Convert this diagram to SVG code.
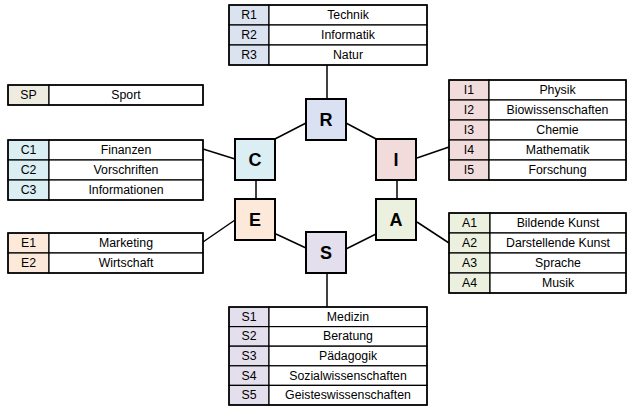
<svg xmlns="http://www.w3.org/2000/svg" width="633" height="406" viewBox="0 0 633 406">
<style>
.t{font-family:"Liberation Sans",Arial,sans-serif;font-size:12.3px;fill:#000;text-anchor:middle;dominant-baseline:central}
.b{font-family:"Liberation Sans",Arial,sans-serif;font-size:18px;font-weight:bold;fill:#000;text-anchor:middle;dominant-baseline:central}
.c{stroke:#000;stroke-width:1.5}
.box{stroke:#000;stroke-width:2}
.frame{fill:none;stroke:#000;stroke-width:1.5}
.cell{fill:#fff;stroke:#000;stroke-width:1.2}
</style>
<rect width="633" height="406" fill="#fff"/>
<g id="connectors" class="c" fill="none">
<line x1="327" y1="65" x2="327" y2="99"/>
<line x1="306" y1="123" x2="273" y2="140"/>
<line x1="346" y1="123" x2="378" y2="140"/>
<line x1="256" y1="180" x2="256" y2="199"/>
<line x1="397" y1="180" x2="397" y2="199"/>
<line x1="276" y1="234" x2="306" y2="248"/>
<line x1="376" y1="234" x2="346" y2="249"/>
<line x1="327" y1="273" x2="327" y2="307"/>
<line x1="203" y1="149" x2="235" y2="159"/>
<line x1="203" y1="242" x2="235" y2="220"/>
<line x1="417" y1="158" x2="449" y2="147"/>
<line x1="417" y1="222" x2="449" y2="243"/>
</g>
<g id="R">
<rect class="box" x="306" y="99" width="40" height="41" fill="#d9e1f2"/>
<text class="b" x="326" y="120">R</text>
</g>
<g id="C">
<rect class="box" x="235" y="139" width="40" height="41" fill="#daeef3"/>
<text class="b" x="255" y="160">C</text>
</g>
<g id="I">
<rect class="box" x="376" y="139" width="40" height="41" fill="#f2dcdb"/>
<text class="b" x="396" y="160">I</text>
</g>
<g id="E">
<rect class="box" x="235" y="199" width="40" height="41" fill="#fde9d9"/>
<text class="b" x="255" y="220">E</text>
</g>
<g id="A">
<rect class="box" x="376" y="199" width="40" height="41" fill="#ebf1de"/>
<text class="b" x="396" y="220">A</text>
</g>
<g id="S">
<rect class="box" x="306" y="232" width="40" height="41" fill="#e4dfec"/>
<text class="b" x="326" y="253">S</text>
</g>
<g id="table-R">
<rect class="cell" x="229" y="5" width="40" height="20" style="fill:#dbe3f1"/>
<rect class="cell" x="229" y="25" width="40" height="20" style="fill:#dbe3f1"/>
<rect class="cell" x="229" y="45" width="40" height="20" style="fill:#dbe3f1"/>
<rect class="cell" x="269" y="5" width="158" height="20"/>
<rect class="cell" x="269" y="25" width="158" height="20"/>
<rect class="cell" x="269" y="45" width="158" height="20"/>
<rect class="frame" x="229" y="5" width="198" height="60"/>
<text class="t" x="249" y="15">R1</text><text class="t" x="348" y="15">Technik</text>
<text class="t" x="249" y="35">R2</text><text class="t" x="348" y="35">Informatik</text>
<text class="t" x="249" y="55">R3</text><text class="t" x="348" y="55">Natur</text>
</g>
<g id="table-SP">
<rect class="cell" x="8" y="85" width="41" height="20" style="fill:#eeece1"/>
<rect class="cell" x="49" y="85" width="154" height="20"/>
<rect class="frame" x="8" y="85" width="195" height="20"/>
<text class="t" x="28.5" y="95">SP</text><text class="t" x="126" y="95">Sport</text>
</g>
<g id="table-C">
<rect class="cell" x="8" y="140" width="41" height="20" style="fill:#daeef3"/>
<rect class="cell" x="8" y="160" width="41" height="20" style="fill:#daeef3"/>
<rect class="cell" x="8" y="180" width="41" height="20" style="fill:#daeef3"/>
<rect class="cell" x="49" y="140" width="154" height="20"/>
<rect class="cell" x="49" y="160" width="154" height="20"/>
<rect class="cell" x="49" y="180" width="154" height="20"/>
<rect class="frame" x="8" y="140" width="195" height="60"/>
<text class="t" x="28.5" y="150">C1</text><text class="t" x="126" y="150">Finanzen</text>
<text class="t" x="28.5" y="170">C2</text><text class="t" x="126" y="170">Vorschriften</text>
<text class="t" x="28.5" y="190">C3</text><text class="t" x="126" y="190">Informationen</text>
</g>
<g id="table-E">
<rect class="cell" x="8" y="233" width="41" height="20" style="fill:#fde9d9"/>
<rect class="cell" x="8" y="253" width="41" height="20" style="fill:#fde9d9"/>
<rect class="cell" x="49" y="233" width="154" height="20"/>
<rect class="cell" x="49" y="253" width="154" height="20"/>
<rect class="frame" x="8" y="233" width="195" height="40"/>
<text class="t" x="28.5" y="243">E1</text><text class="t" x="126" y="243">Marketing</text>
<text class="t" x="28.5" y="263">E2</text><text class="t" x="126" y="263">Wirtschaft</text>
</g>
<g id="table-I">
<rect class="cell" x="449" y="80" width="40" height="20" style="fill:#f2dcdb"/>
<rect class="cell" x="449" y="100" width="40" height="20" style="fill:#f2dcdb"/>
<rect class="cell" x="449" y="120" width="40" height="20" style="fill:#f2dcdb"/>
<rect class="cell" x="449" y="140" width="40" height="20" style="fill:#f2dcdb"/>
<rect class="cell" x="449" y="160" width="40" height="20" style="fill:#f2dcdb"/>
<rect class="cell" x="489" y="80" width="137" height="20"/>
<rect class="cell" x="489" y="100" width="137" height="20"/>
<rect class="cell" x="489" y="120" width="137" height="20"/>
<rect class="cell" x="489" y="140" width="137" height="20"/>
<rect class="cell" x="489" y="160" width="137" height="20"/>
<rect class="frame" x="449" y="80" width="177" height="100"/>
<text class="t" x="469" y="90">I1</text><text class="t" x="557.5" y="90">Physik</text>
<text class="t" x="469" y="110">I2</text><text class="t" x="557.5" y="110">Biowissenschaften</text>
<text class="t" x="469" y="130">I3</text><text class="t" x="557.5" y="130">Chemie</text>
<text class="t" x="469" y="150">I4</text><text class="t" x="557.5" y="150">Mathematik</text>
<text class="t" x="469" y="170">I5</text><text class="t" x="557.5" y="170">Forschung</text>
</g>
<g id="table-A">
<rect class="cell" x="449" y="213" width="41" height="20" style="fill:#ebf1de"/>
<rect class="cell" x="449" y="233" width="41" height="20" style="fill:#ebf1de"/>
<rect class="cell" x="449" y="253" width="41" height="20" style="fill:#ebf1de"/>
<rect class="cell" x="449" y="273" width="41" height="20" style="fill:#ebf1de"/>
<rect class="cell" x="490" y="213" width="136" height="20"/>
<rect class="cell" x="490" y="233" width="136" height="20"/>
<rect class="cell" x="490" y="253" width="136" height="20"/>
<rect class="cell" x="490" y="273" width="136" height="20"/>
<rect class="frame" x="449" y="213" width="177" height="80"/>
<text class="t" x="469.5" y="223">A1</text><text class="t" x="558" y="223">Bildende Kunst</text>
<text class="t" x="469.5" y="243">A2</text><text class="t" x="558" y="243">Darstellende Kunst</text>
<text class="t" x="469.5" y="263">A3</text><text class="t" x="558" y="263">Sprache</text>
<text class="t" x="469.5" y="283">A4</text><text class="t" x="558" y="283">Musik</text>
</g>
<g id="table-S">
<rect class="cell" x="229" y="307" width="40" height="19.6" style="fill:#e4dfec"/>
<rect class="cell" x="229" y="326.6" width="40" height="19.6" style="fill:#e4dfec"/>
<rect class="cell" x="229" y="346.2" width="40" height="19.6" style="fill:#e4dfec"/>
<rect class="cell" x="229" y="365.8" width="40" height="19.6" style="fill:#e4dfec"/>
<rect class="cell" x="229" y="385.4" width="40" height="19.6" style="fill:#e4dfec"/>
<rect class="cell" x="269" y="307" width="158" height="19.6"/>
<rect class="cell" x="269" y="326.6" width="158" height="19.6"/>
<rect class="cell" x="269" y="346.2" width="158" height="19.6"/>
<rect class="cell" x="269" y="365.8" width="158" height="19.6"/>
<rect class="cell" x="269" y="385.4" width="158" height="19.6"/>
<rect class="frame" x="229" y="307" width="198" height="98"/>
<text class="t" x="249" y="316.8">S1</text><text class="t" x="348" y="316.8">Medizin</text>
<text class="t" x="249" y="336.4">S2</text><text class="t" x="348" y="336.4">Beratung</text>
<text class="t" x="249" y="356">S3</text><text class="t" x="348" y="356">Pädagogik</text>
<text class="t" x="249" y="375.6">S4</text><text class="t" x="348" y="375.6">Sozialwissenschaften</text>
<text class="t" x="249" y="395.2">S5</text><text class="t" x="348" y="395.2">Geisteswissenschaften</text>
</g>
</svg>
